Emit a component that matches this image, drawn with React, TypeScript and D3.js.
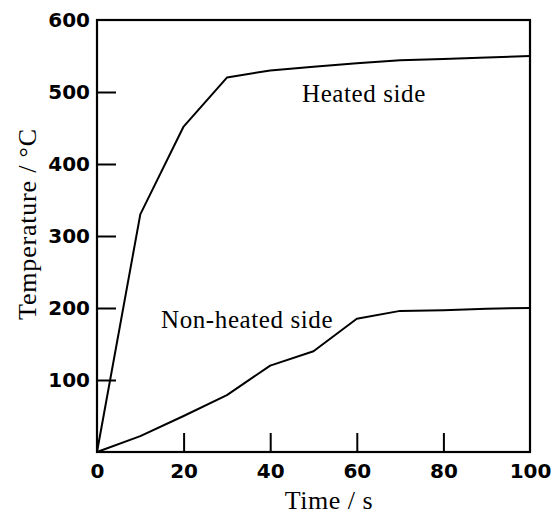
import React, { useRef, useEffect } from "react";
import * as d3 from "d3";

const timeValues = [0, 10, 20, 30, 40, 50, 60, 70, 80, 90, 100];
const heatedSide = [0, 330, 452, 520, 530, 535, 540, 544, 546, 548, 550];
const nonHeatedSide = [0, 22, 50, 79, 120, 140, 185, 196, 197, 199, 200];
const xTicks = [0, 20, 40, 60, 80, 100];
const yTicks = [100, 200, 300, 400, 500, 600];

const W = 559;
const H = 515;
const m = { left: 97, top: 20, right: 29, bottom: 63 };

const App = () => {
  const svgRef = useRef<SVGSVGElement>(null);

  useEffect(() => {
    const svg = d3.select(svgRef.current);
    svg.selectAll("*").remove();

    const x = d3.scaleLinear().domain([0, 100]).range([m.left, W - m.right]);
    const y = d3.scaleLinear().domain([0, 600]).range([H - m.bottom, m.top]);

    const tickFont = "'DejaVu Sans', sans-serif";
    const serif = "'Liberation Serif', 'Times New Roman', serif";

    // x axis, ticks point inwards
    const xAxis = d3.axisBottom(x).tickValues(xTicks).tickSizeInner(-19).tickSizeOuter(0).tickPadding(30);
    const gx = svg.append("g").attr("transform", `translate(0,${y(0)})`).call(xAxis);
    gx.select(".domain").remove();
    gx.selectAll(".tick line")
      .attr("stroke-width", 2)
      .filter((d: any) => d === 0 || d === 100)
      .remove();
    gx.selectAll("text")
      .attr("font-family", tickFont)
      .attr("font-weight", "bold")
      .attr("font-size", 20)
      .attr("fill", "#000")
      .attr("dy", "-0.2em");

    const yAxis = d3.axisLeft(y).tickValues(yTicks).tickSizeInner(-19).tickSizeOuter(0).tickPadding(26);
    const gy = svg.append("g").attr("transform", `translate(${x(0)},0)`).call(yAxis);
    gy.select(".domain").remove();
    gy.selectAll(".tick line")
      .attr("stroke-width", 2)
      .filter((d: any) => d === 600)
      .remove();
    gy.selectAll("text")
      .attr("font-family", tickFont)
      .attr("font-weight", "bold")
      .attr("font-size", 20)
      .attr("fill", "#000")
      .attr("x", -7);

    // frame
    svg
      .append("rect")
      .attr("x", x(0))
      .attr("y", y(600))
      .attr("width", x(100) - x(0))
      .attr("height", y(0) - y(600))
      .attr("fill", "none")
      .attr("stroke", "#000")
      .attr("stroke-width", 2.2);

    const aLine = d3
      .line<number>()
      .x((_, i) => x(timeValues[i]))
      .y((v) => y(v));

    svg
      .selectAll(".line")
      .data([heatedSide, nonHeatedSide])
      .join("path")
      .attr("class", "line")
      .attr("d", (d) => aLine(d))
      .attr("fill", "none")
      .attr("stroke", "#000")
      .attr("stroke-width", 2)
      .attr("stroke-linejoin", "round");

    svg
      .append("text")
      .attr("x", 302)
      .attr("y", 102)
      .attr("font-family", serif)
      .attr("font-size", 25)
      .attr("letter-spacing", 0.6)
      .text("Heated side");

    svg
      .append("text")
      .attr("x", 161)
      .attr("y", 328)
      .attr("font-family", serif)
      .attr("font-size", 25)
      .attr("letter-spacing", 0.6)
      .text("Non-heated side");

    svg
      .append("text")
      .attr("x", 329)
      .attr("y", 509)
      .attr("text-anchor", "middle")
      .attr("font-family", serif)
      .attr("font-size", 26)
      .attr("letter-spacing", 0.5)
      .text("Time / s");

    svg
      .append("text")
      .attr("transform", `translate(36,224) rotate(-90)`)
      .attr("text-anchor", "middle")
      .attr("font-family", serif)
      .attr("font-size", 26)
      .attr("letter-spacing", 0.8)
      .text("Temperature / °C");
  }, []);

  return <svg ref={svgRef} width={W} height={H} style={{ position: "absolute", left: 0, top: 0, background: "#fff" }} />;
};

export default App;
